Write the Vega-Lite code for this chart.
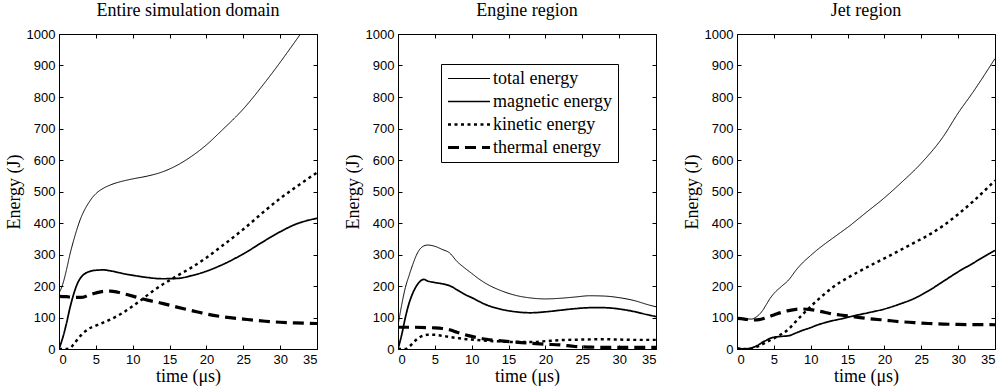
{
"$schema": "https://vega.github.io/schema/vega-lite/v6.json",
"padding": {"left": 4, "top": 1, "right": 0, "bottom": 0},
"bounds": "flush",
"spacing": 81,
"config": {
 "view": {"stroke": "black", "strokeWidth": 1},
 "axis": {"grid": false, "domain": false, "tickColor": "black", "tickSize": -4, "tickWidth": 1, "labelFont": "Liberation Sans", "labelFontSize": 13, "labelColor": "black", "labelPadding": 8, "titleFont": "Liberation Serif", "titleFontSize": 18, "titleFontWeight": "normal", "titleColor": "black", "format": "d"},
 "axisX": {"titlePadding": 1},
 "axisY": {"titlePadding": 3},
 "title": {"font": "Liberation Serif", "fontSize": 18, "fontWeight": "normal", "color": "black", "offset": 8, "anchor": "middle"}
},
"datasets": {
 "entire": [
  {"t":0,"s":"total energy","E":177},{"t":0.5,"s":"total energy","E":205},{"t":1,"s":"total energy","E":250},{"t":1.5,"s":"total energy","E":302},{"t":2,"s":"total energy","E":346},{"t":2.5,"s":"total energy","E":385},{"t":3,"s":"total energy","E":418},{"t":3.5,"s":"total energy","E":443},{"t":4,"s":"total energy","E":463},{"t":4.5,"s":"total energy","E":480},{"t":5,"s":"total energy","E":493},{"t":6,"s":"total energy","E":510},{"t":7,"s":"total energy","E":521},{"t":8,"s":"total energy","E":529},{"t":9,"s":"total energy","E":535},{"t":10,"s":"total energy","E":540},{"t":12,"s":"total energy","E":549},{"t":14,"s":"total energy","E":562},{"t":16,"s":"total energy","E":583},{"t":18,"s":"total energy","E":612},{"t":20,"s":"total energy","E":648},{"t":22,"s":"total energy","E":692},{"t":25,"s":"total energy","E":762},{"t":28,"s":"total energy","E":848},{"t":30,"s":"total energy","E":910},{"t":32,"s":"total energy","E":975},{"t":35,"s":"total energy","E":1075},
  {"t":0,"s":"magnetic energy","E":0},{"t":0.5,"s":"magnetic energy","E":35},{"t":1,"s":"magnetic energy","E":80},{"t":1.5,"s":"magnetic energy","E":132},{"t":2,"s":"magnetic energy","E":175},{"t":2.5,"s":"magnetic energy","E":208},{"t":3,"s":"magnetic energy","E":228},{"t":3.5,"s":"magnetic energy","E":239},{"t":4,"s":"magnetic energy","E":245},{"t":5,"s":"magnetic energy","E":250},{"t":6,"s":"magnetic energy","E":251},{"t":7,"s":"magnetic energy","E":248},{"t":8,"s":"magnetic energy","E":243},{"t":9,"s":"magnetic energy","E":238},{"t":10,"s":"magnetic energy","E":234},{"t":12,"s":"magnetic energy","E":227},{"t":14,"s":"magnetic energy","E":223},{"t":16,"s":"magnetic energy","E":224},{"t":18,"s":"magnetic energy","E":233},{"t":20,"s":"magnetic energy","E":247},{"t":22,"s":"magnetic energy","E":266},{"t":25,"s":"magnetic energy","E":302},{"t":28,"s":"magnetic energy","E":345},{"t":30,"s":"magnetic energy","E":372},{"t":32,"s":"magnetic energy","E":395},{"t":35,"s":"magnetic energy","E":415},
  {"t":0,"s":"kinetic energy","E":0},{"t":1,"s":"kinetic energy","E":0},{"t":1.5,"s":"kinetic energy","E":3},{"t":2,"s":"kinetic energy","E":15},{"t":2.5,"s":"kinetic energy","E":30},{"t":3,"s":"kinetic energy","E":44},{"t":3.5,"s":"kinetic energy","E":55},{"t":4,"s":"kinetic energy","E":64},{"t":5,"s":"kinetic energy","E":74},{"t":6,"s":"kinetic energy","E":84},{"t":7,"s":"kinetic energy","E":94},{"t":8,"s":"kinetic energy","E":106},{"t":9,"s":"kinetic energy","E":120},{"t":10,"s":"kinetic energy","E":136},{"t":11,"s":"kinetic energy","E":153},{"t":12,"s":"kinetic energy","E":171},{"t":13,"s":"kinetic energy","E":188},{"t":14,"s":"kinetic energy","E":204},{"t":15,"s":"kinetic energy","E":218},{"t":16,"s":"kinetic energy","E":232},{"t":18,"s":"kinetic energy","E":259},{"t":20,"s":"kinetic energy","E":290},{"t":22,"s":"kinetic energy","E":325},{"t":25,"s":"kinetic energy","E":380},{"t":28,"s":"kinetic energy","E":440},{"t":30,"s":"kinetic energy","E":478},{"t":32,"s":"kinetic energy","E":512},{"t":35,"s":"kinetic energy","E":560},
  {"t":0,"s":"thermal energy","E":167},{"t":1,"s":"thermal energy","E":166},{"t":2,"s":"thermal energy","E":164},{"t":3,"s":"thermal energy","E":164},{"t":3.5,"s":"thermal energy","E":166},{"t":4,"s":"thermal energy","E":171},{"t":5,"s":"thermal energy","E":178},{"t":6,"s":"thermal energy","E":183},{"t":7,"s":"thermal energy","E":184},{"t":8,"s":"thermal energy","E":180},{"t":9,"s":"thermal energy","E":174},{"t":10,"s":"thermal energy","E":168},{"t":12,"s":"thermal energy","E":155},{"t":14,"s":"thermal energy","E":145},{"t":16,"s":"thermal energy","E":133},{"t":18,"s":"thermal energy","E":122},{"t":20,"s":"thermal energy","E":111},{"t":22,"s":"thermal energy","E":103},{"t":25,"s":"thermal energy","E":95},{"t":28,"s":"thermal energy","E":88},{"t":30,"s":"thermal energy","E":85},{"t":32,"s":"thermal energy","E":83},{"t":35,"s":"thermal energy","E":81}
 ],
 "engine": [
  {"t":0,"s":"total energy","E":75},{"t":0.5,"s":"total energy","E":140},{"t":1,"s":"total energy","E":195},{"t":1.5,"s":"total energy","E":233},{"t":2,"s":"total energy","E":268},{"t":2.5,"s":"total energy","E":298},{"t":3,"s":"total energy","E":318},{"t":3.5,"s":"total energy","E":327},{"t":4,"s":"total energy","E":330},{"t":5,"s":"total energy","E":326},{"t":6,"s":"total energy","E":316},{"t":7,"s":"total energy","E":305},{"t":8,"s":"total energy","E":278},{"t":9,"s":"total energy","E":258},{"t":10,"s":"total energy","E":240},{"t":11,"s":"total energy","E":222},{"t":12,"s":"total energy","E":207},{"t":14,"s":"total energy","E":185},{"t":16,"s":"total energy","E":170},{"t":18,"s":"total energy","E":162},{"t":20,"s":"total energy","E":159},{"t":22,"s":"total energy","E":161},{"t":24,"s":"total energy","E":165},{"t":26,"s":"total energy","E":169},{"t":28,"s":"total energy","E":168},{"t":30,"s":"total energy","E":163},{"t":32,"s":"total energy","E":154},{"t":34,"s":"total energy","E":140},{"t":35,"s":"total energy","E":134},
  {"t":0,"s":"magnetic energy","E":0},{"t":0.5,"s":"magnetic energy","E":45},{"t":1,"s":"magnetic energy","E":100},{"t":1.5,"s":"magnetic energy","E":145},{"t":2,"s":"magnetic energy","E":177},{"t":2.5,"s":"magnetic energy","E":200},{"t":3,"s":"magnetic energy","E":215},{"t":3.5,"s":"magnetic energy","E":221},{"t":4,"s":"magnetic energy","E":216},{"t":5,"s":"magnetic energy","E":211},{"t":6,"s":"magnetic energy","E":207},{"t":7,"s":"magnetic energy","E":201},{"t":8,"s":"magnetic energy","E":188},{"t":9,"s":"magnetic energy","E":174},{"t":10,"s":"magnetic energy","E":163},{"t":12,"s":"magnetic energy","E":140},{"t":14,"s":"magnetic energy","E":126},{"t":16,"s":"magnetic energy","E":118},{"t":18,"s":"magnetic energy","E":115},{"t":20,"s":"magnetic energy","E":118},{"t":22,"s":"magnetic energy","E":123},{"t":24,"s":"magnetic energy","E":128},{"t":26,"s":"magnetic energy","E":131},{"t":28,"s":"magnetic energy","E":131},{"t":30,"s":"magnetic energy","E":127},{"t":32,"s":"magnetic energy","E":119},{"t":34,"s":"magnetic energy","E":108},{"t":35,"s":"magnetic energy","E":103},
  {"t":0,"s":"kinetic energy","E":0},{"t":1,"s":"kinetic energy","E":0},{"t":1.5,"s":"kinetic energy","E":7},{"t":2,"s":"kinetic energy","E":18},{"t":2.5,"s":"kinetic energy","E":30},{"t":3,"s":"kinetic energy","E":38},{"t":3.5,"s":"kinetic energy","E":43},{"t":4,"s":"kinetic energy","E":45},{"t":5,"s":"kinetic energy","E":45},{"t":6,"s":"kinetic energy","E":42},{"t":7,"s":"kinetic energy","E":38},{"t":8,"s":"kinetic energy","E":35},{"t":9,"s":"kinetic energy","E":32},{"t":10,"s":"kinetic energy","E":30},{"t":12,"s":"kinetic energy","E":26},{"t":14,"s":"kinetic energy","E":24},{"t":16,"s":"kinetic energy","E":22},{"t":18,"s":"kinetic energy","E":22},{"t":20,"s":"kinetic energy","E":25},{"t":22,"s":"kinetic energy","E":28},{"t":25,"s":"kinetic energy","E":30},{"t":28,"s":"kinetic energy","E":31},{"t":30,"s":"kinetic energy","E":30},{"t":32,"s":"kinetic energy","E":29},{"t":35,"s":"kinetic energy","E":29},
  {"t":0,"s":"thermal energy","E":69},{"t":2,"s":"thermal energy","E":69},{"t":4,"s":"thermal energy","E":68},{"t":5,"s":"thermal energy","E":67},{"t":6,"s":"thermal energy","E":65},{"t":7,"s":"thermal energy","E":61},{"t":8,"s":"thermal energy","E":53},{"t":9,"s":"thermal energy","E":46},{"t":10,"s":"thermal energy","E":40},{"t":12,"s":"thermal energy","E":31},{"t":14,"s":"thermal energy","E":26},{"t":16,"s":"thermal energy","E":22},{"t":18,"s":"thermal energy","E":18},{"t":20,"s":"thermal energy","E":15},{"t":22,"s":"thermal energy","E":13},{"t":24,"s":"thermal energy","E":8},{"t":26,"s":"thermal energy","E":6},{"t":28,"s":"thermal energy","E":5},{"t":30,"s":"thermal energy","E":5},{"t":35,"s":"thermal energy","E":5}
 ],
 "jet": [
  {"t":0,"s":"total energy","E":99},{"t":1,"s":"total energy","E":96},{"t":2,"s":"total energy","E":95},{"t":2.5,"s":"total energy","E":100},{"t":3,"s":"total energy","E":109},{"t":3.5,"s":"total energy","E":123},{"t":4,"s":"total energy","E":142},{"t":4.5,"s":"total energy","E":161},{"t":5,"s":"total energy","E":176},{"t":6,"s":"total energy","E":198},{"t":7,"s":"total energy","E":219},{"t":8,"s":"total energy","E":250},{"t":9,"s":"total energy","E":276},{"t":10,"s":"total energy","E":297},{"t":11,"s":"total energy","E":317},{"t":12,"s":"total energy","E":335},{"t":13,"s":"total energy","E":352},{"t":14,"s":"total energy","E":369},{"t":15,"s":"total energy","E":386},{"t":17.5,"s":"total energy","E":433},{"t":20,"s":"total energy","E":480},{"t":22,"s":"total energy","E":522},{"t":25,"s":"total energy","E":590},{"t":28,"s":"total energy","E":675},{"t":30,"s":"total energy","E":749},{"t":32,"s":"total energy","E":815},{"t":35,"s":"total energy","E":922},
  {"t":0,"s":"magnetic energy","E":5},{"t":1,"s":"magnetic energy","E":0},{"t":2,"s":"magnetic energy","E":4},{"t":3,"s":"magnetic energy","E":14},{"t":3.5,"s":"magnetic energy","E":22},{"t":4,"s":"magnetic energy","E":28},{"t":4.5,"s":"magnetic energy","E":34},{"t":5,"s":"magnetic energy","E":37},{"t":6,"s":"magnetic energy","E":40},{"t":7,"s":"magnetic energy","E":42},{"t":8,"s":"magnetic energy","E":51},{"t":9,"s":"magnetic energy","E":60},{"t":10,"s":"magnetic energy","E":68},{"t":11,"s":"magnetic energy","E":77},{"t":12,"s":"magnetic energy","E":84},{"t":13,"s":"magnetic energy","E":90},{"t":14,"s":"magnetic energy","E":95},{"t":16,"s":"magnetic energy","E":106},{"t":18,"s":"magnetic energy","E":116},{"t":20,"s":"magnetic energy","E":127},{"t":22,"s":"magnetic energy","E":142},{"t":24,"s":"magnetic energy","E":160},{"t":26,"s":"magnetic energy","E":185},{"t":28,"s":"magnetic energy","E":215},{"t":30,"s":"magnetic energy","E":245},{"t":32,"s":"magnetic energy","E":272},{"t":34,"s":"magnetic energy","E":300},{"t":35,"s":"magnetic energy","E":313},
  {"t":0,"s":"kinetic energy","E":0},{"t":1,"s":"kinetic energy","E":0},{"t":2,"s":"kinetic energy","E":2},{"t":2.5,"s":"kinetic energy","E":5},{"t":3,"s":"kinetic energy","E":10},{"t":4,"s":"kinetic energy","E":22},{"t":5,"s":"kinetic energy","E":34},{"t":6,"s":"kinetic energy","E":47},{"t":7,"s":"kinetic energy","E":63},{"t":8,"s":"kinetic energy","E":88},{"t":9,"s":"kinetic energy","E":112},{"t":10,"s":"kinetic energy","E":135},{"t":11,"s":"kinetic energy","E":157},{"t":12,"s":"kinetic energy","E":177},{"t":13,"s":"kinetic energy","E":196},{"t":14,"s":"kinetic energy","E":212},{"t":15,"s":"kinetic energy","E":226},{"t":16,"s":"kinetic energy","E":239},{"t":18,"s":"kinetic energy","E":264},{"t":20,"s":"kinetic energy","E":288},{"t":22,"s":"kinetic energy","E":312},{"t":24,"s":"kinetic energy","E":337},{"t":26,"s":"kinetic energy","E":362},{"t":28,"s":"kinetic energy","E":392},{"t":30,"s":"kinetic energy","E":428},{"t":32,"s":"kinetic energy","E":468},{"t":35,"s":"kinetic energy","E":535},
  {"t":0,"s":"thermal energy","E":97},{"t":1,"s":"thermal energy","E":95},{"t":2,"s":"thermal energy","E":92},{"t":3,"s":"thermal energy","E":93},{"t":4,"s":"thermal energy","E":100},{"t":5,"s":"thermal energy","E":108},{"t":6,"s":"thermal energy","E":116},{"t":7,"s":"thermal energy","E":122},{"t":8,"s":"thermal energy","E":126},{"t":9,"s":"thermal energy","E":127},{"t":10,"s":"thermal energy","E":125},{"t":11,"s":"thermal energy","E":121},{"t":12,"s":"thermal energy","E":116},{"t":13,"s":"thermal energy","E":111},{"t":14,"s":"thermal energy","E":108},{"t":16,"s":"thermal energy","E":102},{"t":18,"s":"thermal energy","E":96},{"t":20,"s":"thermal energy","E":92},{"t":22,"s":"thermal energy","E":87},{"t":24,"s":"thermal energy","E":84},{"t":26,"s":"thermal energy","E":81},{"t":28,"s":"thermal energy","E":79},{"t":30,"s":"thermal energy","E":78},{"t":35,"s":"thermal energy","E":77}
 ]
},
"resolve": {"scale": {"strokeDash": "independent", "strokeWidth": "independent"}, "legend": {"strokeDash": "independent", "strokeWidth": "independent"}},
"hconcat": [
 {
  "title": {"text": "Entire simulation domain"},
  "width": 258, "height": 315,
  "data": {"name": "entire"},
  "layer": [
   {"mark": {"type": "line", "clip": true, "interpolate": "monotone", "color": "black"},
    "encoding": {
     "x": {"field": "t", "type": "quantitative", "scale": {"domain": [0, 35], "nice": false}, "axis": {"title": "time (μs)", "values": [0,5,10,15,20,25,30,35]}},
     "y": {"field": "E", "type": "quantitative", "scale": {"domain": [0, 1000], "nice": false}, "axis": {"title": "Energy (J)", "values": [0,100,200,300,400,500,600,700,800,900,1000]}},
     "strokeDash": {"field": "s", "type": "ordinal", "scale": {"domain": ["total energy","magnetic energy","kinetic energy","thermal energy"], "range": [[1,0],[1,0],[3,3.5],[11,6]]}, "legend": null},
     "strokeWidth": {"field": "s", "type": "ordinal", "scale": {"domain": ["total energy","magnetic energy","kinetic energy","thermal energy"], "range": [1,3.2,3,2.8]}, "legend": null}
    }},
   {"mark": {"type": "point", "opacity": 0, "clip": true},
    "encoding": {
     "x": {"field": "t", "type": "quantitative", "scale": {"domain": [0, 35], "nice": false}, "axis": {"orient": "top", "title": null, "labels": false, "values": [0,5,10,15,20,25,30,35]}},
     "y": {"field": "E", "type": "quantitative", "scale": {"domain": [0, 1000], "nice": false}, "axis": {"orient": "right", "title": null, "labels": false, "values": [0,100,200,300,400,500,600,700,800,900,1000]}}
    }}
  ],
  "resolve": {"axis": {"x": "independent", "y": "independent"}}
 },
 {
  "title": {"text": "Engine region"},
  "width": 258, "height": 315,
  "data": {"name": "engine"},
  "layer": [
   {"mark": {"type": "line", "clip": true, "interpolate": "monotone", "color": "black"},
    "encoding": {
     "x": {"field": "t", "type": "quantitative", "scale": {"domain": [0, 35], "nice": false}, "axis": {"title": "time (μs)", "values": [0,5,10,15,20,25,30,35]}},
     "y": {"field": "E", "type": "quantitative", "scale": {"domain": [0, 1000], "nice": false}, "axis": {"title": "Energy (J)", "values": [0,100,200,300,400,500,600,700,800,900,1000]}},
     "strokeDash": {"field": "s", "type": "ordinal", "scale": {"domain": ["total energy","magnetic energy","kinetic energy","thermal energy"], "range": [[1,0],[1,0],[3,3.5],[11,6]]},
       "legend": {"orient": "none", "legendX": 43, "legendY": 30, "title": null, "symbolType": "stroke", "symbolSize": 1764, "symbolStrokeColor": "black", "clipHeight": 19, "rowPadding": 4, "padding": 5, "labelFont": "Liberation Serif", "labelFontSize": 18, "labelColor": "black", "labelOffset": 1, "strokeColor": "black", "fillColor": "white", "cornerRadius": 0, "symbolOffset": 0}},
     "strokeWidth": {"field": "s", "type": "ordinal", "scale": {"domain": ["total energy","magnetic energy","kinetic energy","thermal energy"], "range": [1,3.2,3,2.8]},
       "legend": {"orient": "none", "legendX": 43, "legendY": 30, "title": null, "symbolType": "stroke", "symbolSize": 1764, "symbolStrokeColor": "black", "clipHeight": 19, "rowPadding": 4, "padding": 5, "labelFont": "Liberation Serif", "labelFontSize": 18, "labelColor": "black", "labelOffset": 1, "strokeColor": "black", "fillColor": "white", "cornerRadius": 0, "symbolOffset": 0}}
    }},
   {"mark": {"type": "point", "opacity": 0, "clip": true},
    "encoding": {
     "x": {"field": "t", "type": "quantitative", "scale": {"domain": [0, 35], "nice": false}, "axis": {"orient": "top", "title": null, "labels": false, "values": [0,5,10,15,20,25,30,35]}},
     "y": {"field": "E", "type": "quantitative", "scale": {"domain": [0, 1000], "nice": false}, "axis": {"orient": "right", "title": null, "labels": false, "values": [0,100,200,300,400,500,600,700,800,900,1000]}}
    }}
  ],
  "resolve": {"axis": {"x": "independent", "y": "independent"}}
 },
 {
  "title": {"text": "Jet region"},
  "width": 258, "height": 315,
  "data": {"name": "jet"},
  "layer": [
   {"mark": {"type": "line", "clip": true, "interpolate": "monotone", "color": "black"},
    "encoding": {
     "x": {"field": "t", "type": "quantitative", "scale": {"domain": [0, 35], "nice": false}, "axis": {"title": "time (μs)", "values": [0,5,10,15,20,25,30,35]}},
     "y": {"field": "E", "type": "quantitative", "scale": {"domain": [0, 1000], "nice": false}, "axis": {"title": "Energy (J)", "values": [0,100,200,300,400,500,600,700,800,900,1000]}},
     "strokeDash": {"field": "s", "type": "ordinal", "scale": {"domain": ["total energy","magnetic energy","kinetic energy","thermal energy"], "range": [[1,0],[1,0],[3,3.5],[11,6]]}, "legend": null},
     "strokeWidth": {"field": "s", "type": "ordinal", "scale": {"domain": ["total energy","magnetic energy","kinetic energy","thermal energy"], "range": [1,3.2,3,2.8]}, "legend": null}
    }},
   {"mark": {"type": "point", "opacity": 0, "clip": true},
    "encoding": {
     "x": {"field": "t", "type": "quantitative", "scale": {"domain": [0, 35], "nice": false}, "axis": {"orient": "top", "title": null, "labels": false, "values": [0,5,10,15,20,25,30,35]}},
     "y": {"field": "E", "type": "quantitative", "scale": {"domain": [0, 1000], "nice": false}, "axis": {"orient": "right", "title": null, "labels": false, "values": [0,100,200,300,400,500,600,700,800,900,1000]}}
    }}
  ],
  "resolve": {"axis": {"x": "independent", "y": "independent"}}
 }
]
}
